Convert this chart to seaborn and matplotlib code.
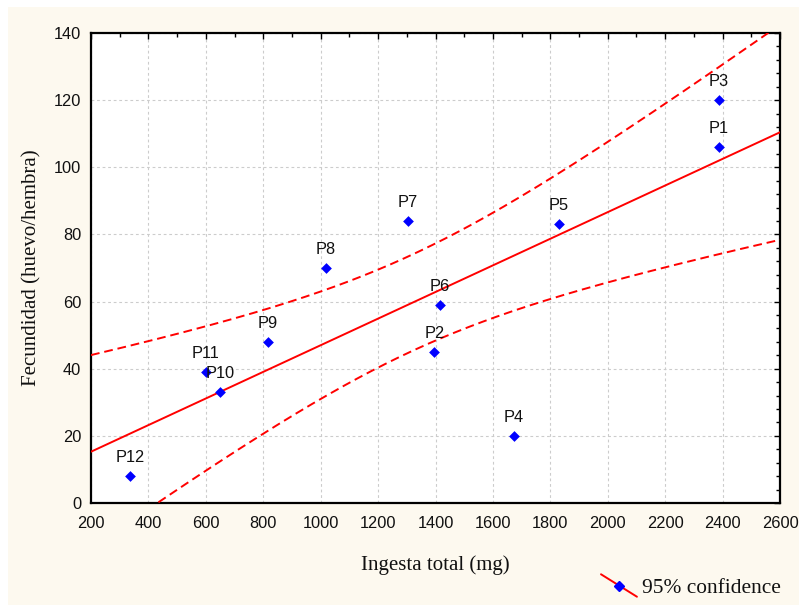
import numpy as np
import pandas as pd
import matplotlib
matplotlib.use("Agg")
import matplotlib.pyplot as plt
from matplotlib.lines import Line2D
from matplotlib.legend_handler import HandlerLine2D
from matplotlib.patches import Rectangle
from matplotlib.ticker import MultipleLocator
import seaborn as sns

# Data: total intake (mg) vs fecundity (eggs/female) per treatment
labels = ["P1", "P2", "P3", "P4", "P5", "P6", "P7", "P8", "P9", "P10", "P11", "P12"]
ingesta = [2386, 1396, 2386, 1673, 1829, 1416, 1305, 1018, 815, 650, 600, 336]
fecundidad = [106, 45, 120, 20, 83, 59, 84, 70, 48, 33, 39, 8]

x_ticks = [200, 400, 600, 800, 1000, 1200, 1400, 1600, 1800, 2000, 2200, 2400, 2600]
y_ticks = [0, 20, 40, 60, 80, 100, 120, 140]

df = pd.DataFrame({"ingesta": ingesta, "fecundidad": fecundidad, "label": labels})

# Ordinary least squares fit with a 95% confidence band for the mean
x = np.asarray(ingesta, float)
y = np.asarray(fecundidad, float)
n = len(x)
xm = x.mean()
sxx = ((x - xm) ** 2).sum()
slope = ((x - xm) * (y - y.mean())).sum() / sxx
intercept = y.mean() - slope * xm
resid = y - (intercept + slope * x)
s = np.sqrt((resid ** 2).sum() / (n - 2))
t975 = 2.228  # Student t, 0.975 quantile, 10 degrees of freedom

xg = np.linspace(x_ticks[0], x_ticks[-1], 300)
yfit = intercept + slope * xg
half = t975 * s * np.sqrt(1.0 / n + (xg - xm) ** 2 / sxx)
band = pd.DataFrame({"x": xg, "fit": yfit, "lo": yfit - half, "hi": yfit + half})

sns.set_style("white")
plt.rcParams["font.family"] = ["Liberation Sans", "DejaVu Sans"]

fig = plt.figure(figsize=(7.99, 6.05), dpi=100, facecolor="white")
fig.patches.append(Rectangle((8 / 799, 0), 1, 1 - 7 / 605, transform=fig.transFigure,
                             facecolor="#FDF9EF", edgecolor="none", zorder=-10))
ax = fig.add_axes([91 / 799, (605 - 503) / 605, (780 - 91) / 799, (503 - 33) / 605])
ax.set_facecolor("white")

red = "#FF0000"
blue = "#0000FF"
sns.lineplot(data=band, x="x", y="fit", ax=ax, color=red, linewidth=1.4, zorder=3)
for col in ("lo", "hi"):
    sns.lineplot(data=band, x="x", y=col, ax=ax, color=red, linewidth=1.4,
                 dashes=False, zorder=3).lines[-1].set_dashes((4.5, 2.5))
sns.scatterplot(data=df, x="ingesta", y="fecundidad", ax=ax, color=blue, marker="D",
                s=30, edgecolor=blue, linewidth=0, zorder=4)

for lab, xi, yi in zip(labels, ingesta, fecundidad):
    ax.annotate(lab, (xi, yi), xytext=(0, 13.5), textcoords="offset points",
                ha="center", va="center", fontsize=11.8, color="#111111", zorder=5)

ax.set_xlim(x_ticks[0], x_ticks[-1])
ax.set_ylim(y_ticks[0], y_ticks[-1])
ax.set_xticks(x_ticks)
ax.set_yticks(y_ticks)
ax.xaxis.set_minor_locator(MultipleLocator(100))
ax.yaxis.set_minor_locator(MultipleLocator(4))
ax.tick_params(which="both", direction="in", top=True, right=True, color="black",
               width=1.0)
ax.tick_params(which="major", length=4.5, labelsize=11.8, labelcolor="#111111")
ax.tick_params(axis="x", which="major", pad=9)
ax.tick_params(axis="y", which="major", pad=7)
ax.tick_params(which="minor", length=3)
ax.grid(True, which="major", color="#CCCCCC", linestyle=(0, (2.5, 2.5)), linewidth=0.8)
for sp in ax.spines.values():
    sp.set_color("black")
    sp.set_linewidth(1.6)
    sp.set_visible(True)

serif = ["Liberation Serif", "DejaVu Serif"]
ax.set_xlabel("Ingesta total (mg)", family=serif, fontsize=15, labelpad=18, color="#111111")
ax.set_ylabel("Fecundidad (huevo/hembra)", family=serif, fontsize=15, labelpad=9,
              color="#111111")


class DiagonalHandler(HandlerLine2D):
    def create_artists(self, legend, orig_handle, xdescent, ydescent, width, height,
                       fontsize, trans):
        x0, x1 = -xdescent, -xdescent + width
        y0, y1 = -ydescent + height * 1.25, -ydescent - height * 0.25
        line = Line2D([x0, x1], [y0, y1], color=red, linewidth=1.4)
        mk = Line2D([(x0 + x1) / 2], [(y0 + y1) / 2], color=blue, marker="D",
                    markersize=5.5, linestyle="none")
        line.set_transform(trans)
        mk.set_transform(trans)
        return [line, mk]


handle = Line2D([], [], color=red, marker="D", markerfacecolor=blue)
leg = fig.legend([handle], ["95% confidence"], loc="center left",
                 bbox_to_anchor=(601 / 799, 17 / 605), frameon=False,
                 borderpad=0, borderaxespad=0,
                 handler_map={handle: DiagonalHandler()}, handlelength=1.68,
                 handletextpad=0.25, prop={"family": serif, "size": 15.4})
for t in leg.get_texts():
    t.set_color("#111111")

fig.savefig("out.png", dpi=100, facecolor=fig.get_facecolor())
